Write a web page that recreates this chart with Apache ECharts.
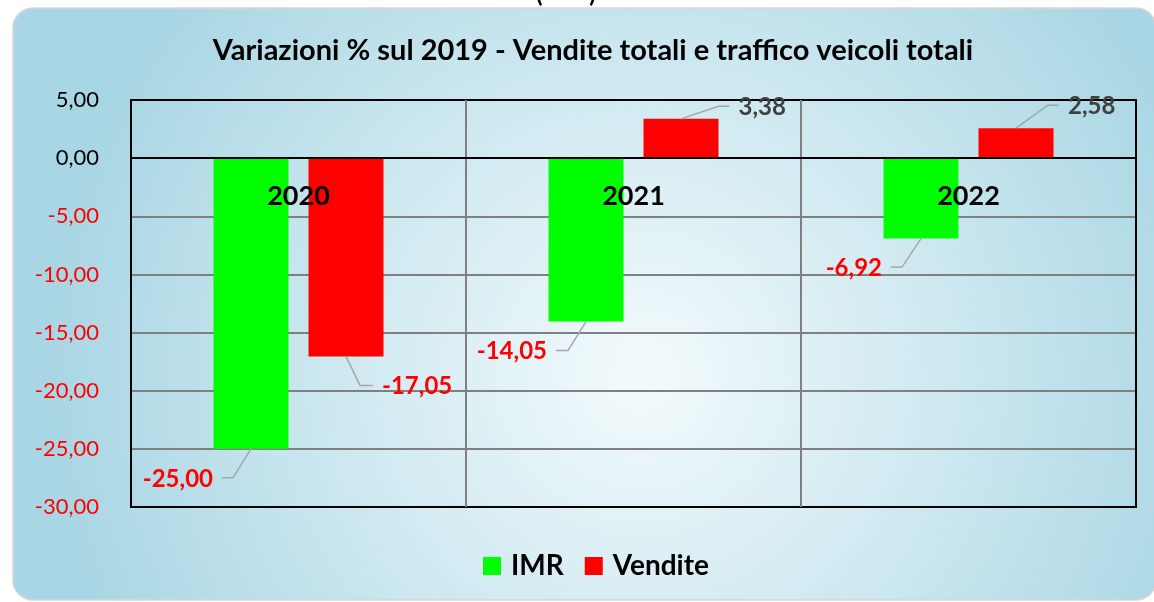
<!DOCTYPE html>
<html>
<head>
<meta charset="utf-8">
<script src="https://cdn.jsdelivr.net/npm/echarts@6/dist/echarts.min.js"></script>
<style>
html,body{margin:0;padding:0;background:#fff;}
#chart{width:1154px;height:602px;}
</style>
</head>
<body>
<div id="chart"></div>
<script>
// ---- data ----
const categories = ['2020', '2021', '2022'];
const imrValues = [-25.00, -14.05, -6.92];
const venditeValues = [-17.05, 3.38, 2.58];
const seriesNames = ['IMR', 'Vendite'];
const yMin = -30, yMax = 5, yStep = 5;
const titleText = 'Variazioni % sul 2019 - Vendite totali e traffico veicoli totali';

// ---- label leader-line layout (pixel offsets from bar end: elbow dx, elbow dy, end dx, text align) ----
const labelLayoutIMR = [[-18, 29, -29, 'right'], [-18, 29, -30, 'right'], [-19, 28.5, -30, 'right']];
const labelLayoutVendite = [[14, 29, 27, 'left'], [37.5, -12.5, 48.5, 'left'], [32, -23, 43, 'left']];

const FONT = 'Lato, "Open Sans", sans-serif';
const BAR_W = 75, BAR_GAP = 20;
const fmt = v => v.toFixed(2).replace('.', ',');

const labelData = [];
[imrValues, venditeValues].forEach((arr, s) => {
  arr.forEach((v, i) => labelData.push([i, v, s]));
});
const catLabelData = categories.map((c, i) => [i, 0]);

// horizontal grid line colours (from min to max): black frame + black zero line
const nY = Math.round((yMax - yMin) / yStep) + 1;
const yLineColors = [];
for (let k = 0; k < nY; k++) {
  const val = yMin + k * yStep;
  yLineColors.push(val === yMin || val === yMax || val === 0 ? '#000000' : '#808080');
}
const xLineColors = ['#000000'].concat(categories.slice(1).map(() => '#808080'), ['#000000']);

const chart = echarts.init(document.getElementById('chart'), null, {renderer: 'canvas'});

const option = {
  animation: false,
  backgroundColor: '#ffffff',
  graphic: [
    {
      type: 'rect', z: -10, silent: true,
      shape: {x: 13, y: 8, width: 1143, height: 592, r: 20},
      style: {
        fill: new echarts.graphic.RadialGradient(0.55, 0.62, 1.0, [
          {offset: 0, color: '#f3fafc'},
          {offset: 0.55, color: '#cbe7ef'},
          {offset: 1, color: '#a9d6e4'}
        ]),
        stroke: '#d6d6d6', lineWidth: 1.5
      }
    },
    {
      type: 'text', z: -5, silent: true,
      style: {x: 566, y: 6, text: '(        )', fill: '#000', font: 'bold 24px ' + FONT, align: 'center', verticalAlign: 'bottom'}
    }
  ],
  title: {
    text: titleText,
    left: 588, top: 31, textAlign: 'center',
    textStyle: {fontFamily: FONT, fontSize: 29, fontWeight: 'bold', color: '#000'}
  },
  legend: {
    data: seriesNames,
    left: 478, top: 547,
    icon: 'rect', itemWidth: 18, itemHeight: 18, itemGap: 21,
    textStyle: {fontFamily: FONT, fontSize: 28, fontWeight: 'bold', color: '#000', padding: [0, 0, 0, 5]}
  },
  grid: {
    left: 131, right: 18, top: 100, bottom: 95,
    show: true, borderColor: '#000', borderWidth: 2, backgroundColor: 'transparent'
  },
  xAxis: {
    type: 'category', data: categories, z: 10,
    axisLine: {onZero: true, lineStyle: {color: '#000', width: 2}},
    axisTick: {show: false},
    axisLabel: {show: false},
    splitLine: {show: true, lineStyle: {color: xLineColors, width: 2}}
  },
  yAxis: {
    type: 'value', min: yMin, max: yMax, interval: yStep,
    axisLine: {show: false}, axisTick: {show: false},
    axisLabel: {
      fontFamily: FONT, fontSize: 22, margin: 32,
      formatter: v => fmt(v),
      color: v => (Number(v) < 0 ? '#ff0000' : '#000000')
    },
    splitLine: {lineStyle: {color: yLineColors, width: 2}}
  },
  series: [
    {
      name: seriesNames[0], type: 'bar', data: imrValues,
      barWidth: BAR_W, barGap: (BAR_GAP / BAR_W * 100) + '%',
      itemStyle: {color: '#00ff00'}
    },
    {
      name: seriesNames[1], type: 'bar', data: venditeValues,
      barWidth: BAR_W,
      itemStyle: {color: '#ff0000'}
    },
    {
      // data labels with leader lines
      type: 'custom', coordinateSystem: 'cartesian2d', silent: true, z: 6,
      data: labelData,
      encode: {x: 0, y: 1},
      renderItem: (params, api) => {
        const ci = api.value(0), v = api.value(1), s = api.value(2);
        const p = api.coord([ci, v]);
        const bx = p[0] + (s === 0 ? -1 : 1) * (BAR_W + BAR_GAP) / 2;
        const by = p[1];
        const L = (s === 0 ? labelLayoutIMR : labelLayoutVendite)[ci];
        const ex = bx + L[0], ey = by + L[1], endX = bx + L[2];
        const tx = endX + (L[3] === 'right' ? -9 : 9);
        return {
          type: 'group',
          children: [
            {type: 'polyline', shape: {points: [[bx, by], [ex, ey], [endX, ey]]},
             style: {stroke: '#a6a6a6', lineWidth: 1.5, fill: null}},
            {type: 'text', style: {x: tx, y: ey + 1, text: fmt(v),
             fill: v < 0 ? '#ff0000' : '#404040', font: 'bold 24px ' + FONT,
             align: L[3], verticalAlign: 'middle'}}
          ]
        };
      }
    },
    {
      // category labels placed just below the zero line
      type: 'custom', coordinateSystem: 'cartesian2d', silent: true, z: 7,
      data: catLabelData,
      encode: {x: 0, y: 1},
      renderItem: (params, api) => {
        const p = api.coord([api.value(0), api.value(1)]);
        return {
          type: 'text',
          style: {x: p[0], y: p[1] + 38, text: categories[params.dataIndex],
            fill: '#000', font: 'bold 27px ' + FONT, align: 'center', verticalAlign: 'middle'}
        };
      }
    }
  ]
};
chart.setOption(option);
</script>
</body>
</html>
